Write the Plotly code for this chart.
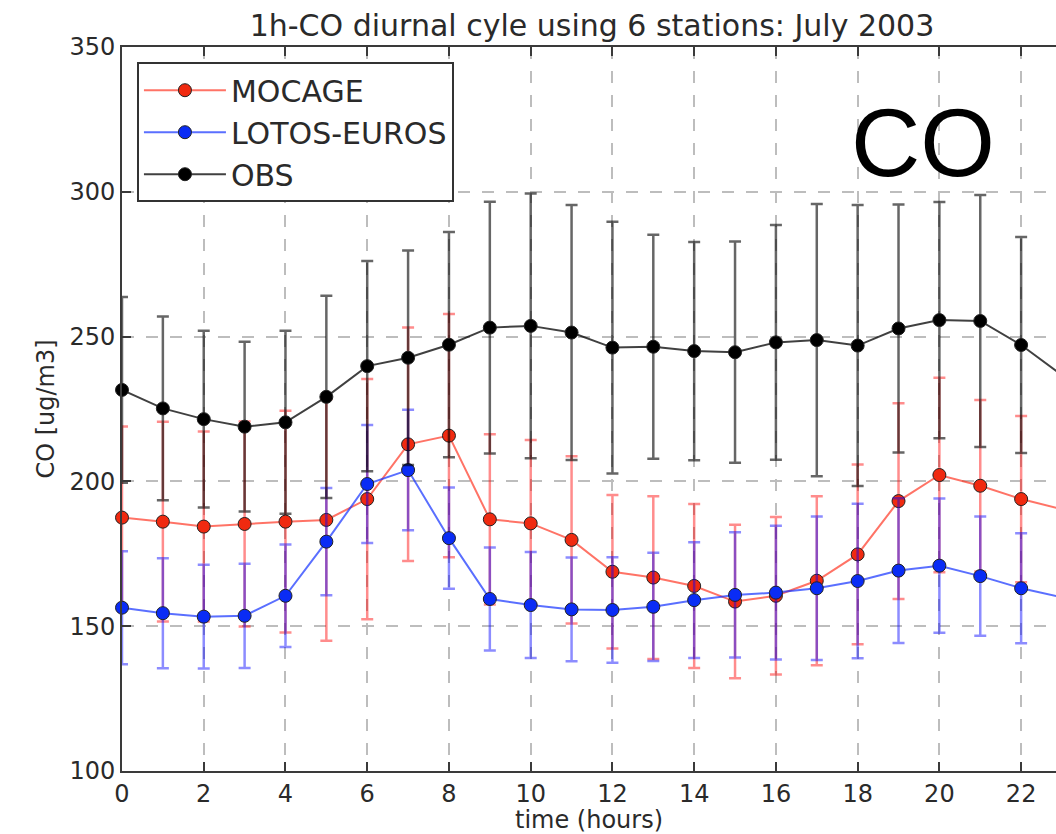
import plotly.graph_objects as go

# Hour of day
hours = list(range(24))

# Hourly mean CO concentrations (ug/m3), averaged over 6 stations
mocage_mean = [187.5, 186.1, 184.4, 185.3, 186.1, 186.7, 193.9, 212.8, 215.8, 186.9,
               185.5, 179.8, 168.8, 166.8, 163.9, 158.5, 160.5, 165.7, 174.8, 193.2,
               202.2, 198.5, 193.9, 190.4]
mocage_std = [31.5, 34.5, 32.8, 35.4, 38.3, 41.7, 41.5, 40.3, 42.0, 29.4,
              28.8, 28.9, 26.5, 28.1, 28.3, 26.5, 27.2, 29.2, 31.0, 33.8,
              33.6, 29.6, 28.7, 30.5]

lotos_mean = [156.4, 154.5, 153.3, 153.6, 160.5, 179.2, 199.1, 203.9, 180.4, 159.4,
              157.3, 155.8, 155.6, 156.7, 159.0, 160.8, 161.6, 163.1, 165.6, 169.2,
              170.9, 167.3, 163.1, 160.0]
lotos_std = [19.5, 19.0, 17.9, 18.0, 17.7, 18.5, 20.4, 20.8, 17.5, 17.8,
             18.3, 17.9, 18.2, 18.7, 20.0, 21.6, 23.1, 24.8, 26.7, 25.0,
             23.2, 20.6, 19.0, 19.3]

obs_mean = [231.6, 225.2, 221.5, 218.9, 220.4, 229.2, 239.8, 242.7, 247.2, 253.1,
            253.7, 251.4, 246.2, 246.5, 245.0, 244.6, 248.0, 248.8, 246.9, 252.8,
            255.7, 255.4, 247.1, 236.7]
obs_std = [32.1, 31.7, 30.5, 29.3, 31.6, 34.9, 36.3, 37.0, 38.9, 43.5,
           45.7, 44.0, 43.5, 38.7, 37.7, 38.2, 40.5, 47.0, 48.5, 42.8,
           40.8, 43.5, 37.3, 35.5]

x_ticks = list(range(0, 24, 2))
y_ticks = [100, 150, 200, 250, 300, 350]

FONT = "DejaVu Sans"
TXT = "#2a2a2a"

# full axis spans hours 0..23; the page shows slightly less than that on the right
X_FULL = 23
X_VIS = X_FULL * 934 / 940

series = [
    ("MOCAGE", mocage_mean, mocage_std, "#f02a10", "rgba(255,40,20,0.65)", "rgba(255,0,0,0.45)"),
    ("LOTOS-EUROS", lotos_mean, lotos_std, "#0a2cf5", "rgba(20,50,255,0.7)", "rgba(0,0,255,0.45)"),
    ("OBS", obs_mean, obs_std, "#000000", "rgba(0,0,0,0.75)", "rgba(0,0,0,0.6)"),
]

fig = go.Figure()
for name, mean, std, mcol, lcol, ecol in series:
    fig.add_trace(go.Scatter(
        x=hours, y=mean, name=name, mode="lines+markers",
        line=dict(color=lcol, width=2),
        marker=dict(color=mcol, size=13, line=dict(color="#222", width=1)),
        error_y=dict(type="data", array=std, visible=True,
                     color=ecol, thickness=2.5, width=6),
        cliponaxis=False,
    ))

fig.add_annotation(x=19.6, y=317, xref="x", yref="y", text="CO", showarrow=False,
                   font=dict(family="Liberation Sans", size=96, color="black"),
                   xanchor="center", yanchor="middle")

axis_common = dict(
    showgrid=True, gridcolor="#bdbdbd", gridwidth=2, griddash="12px,12px",
    showline=True, linecolor="#3a3a3a", linewidth=2,
    ticks="inside", ticklen=9, tickwidth=1.5, tickcolor="#3a3a3a",
    tickfont=dict(family=FONT, size=24, color=TXT),
    zeroline=False,
)

fig.update_layout(
    width=1056, height=834,
    margin=dict(l=122, r=0, t=47, b=63),
    paper_bgcolor="white", plot_bgcolor="white",
    title=dict(text="1h-CO diurnal cyle using 6 stations: July 2003",
               font=dict(family=FONT, size=30, color=TXT),
               xref="paper", x=(X_FULL / 2) / X_VIS, xanchor="center",
               yref="container", y=1 - 25 / 834, yanchor="middle"),
    xaxis=dict(range=[0, X_VIS], tickvals=x_ticks, mirror="ticks",
               title=dict(text="time (hours)", font=dict(family=FONT, size=24, color=TXT), standoff=4),
               **axis_common),
    yaxis=dict(range=[100, 350], tickvals=y_ticks, mirror=False,
               title=dict(text="CO [ug/m3]", font=dict(family=FONT, size=24, color=TXT), standoff=8),
               **axis_common),
    legend=dict(x=0.016, y=0.979, xanchor="left", yanchor="top",
                bgcolor="white", bordercolor="#333", borderwidth=2,
                font=dict(family=FONT, size=30, color=TXT), itemwidth=82),
    showlegend=True,
)

fig.write_html("out.html")
